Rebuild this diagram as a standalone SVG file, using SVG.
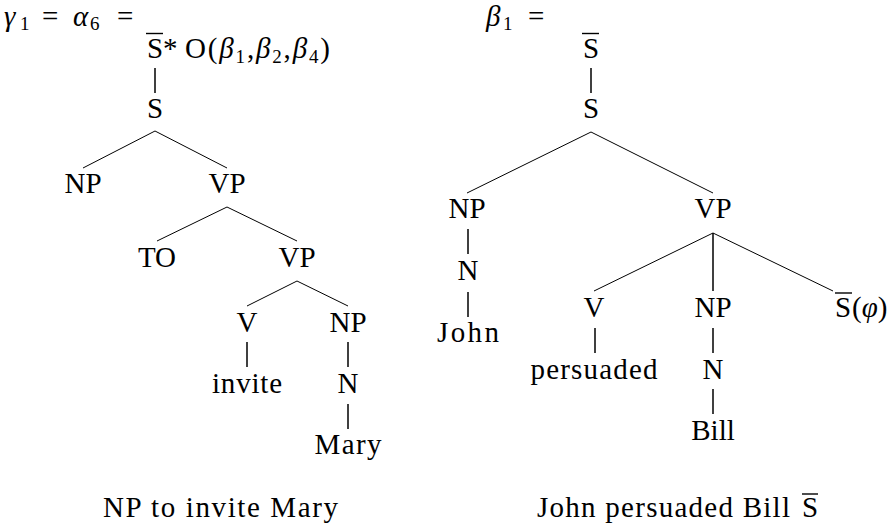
<svg xmlns="http://www.w3.org/2000/svg" width="889" height="525" viewBox="0 0 889 525" font-family="'Liberation Serif', 'DejaVu Serif', serif">
<style>
text{font-family:'Liberation Serif','DejaVu Serif',serif;font-size:29px;fill:#000}
.c{text-anchor:middle}
.i{font-style:italic}
.sub{font-size:19px}
.e line{stroke:#000;stroke-width:1}
.e line.v{stroke-width:1.5}
.ov{stroke:#000;stroke-width:1.4}
</style>
<rect width="889" height="525" fill="#fff"/>
<g id="connectors" class="e">
<line class="v" x1="155" y1="68" x2="155" y2="93"/>
<line x1="155" y1="131" x2="83" y2="168"/>
<line x1="155" y1="131" x2="227" y2="168"/>
<line x1="227" y1="207" x2="157" y2="241"/>
<line x1="227" y1="207" x2="297" y2="241"/>
<line x1="297" y1="281" x2="247" y2="306"/>
<line x1="297" y1="281" x2="348" y2="306"/>
<line class="v" x1="247" y1="342" x2="247" y2="367"/>
<line class="v" x1="348" y1="342" x2="348" y2="367"/>
<line class="v" x1="348" y1="404" x2="348" y2="429"/>
<line class="v" x1="591" y1="68" x2="591" y2="93"/>
<line x1="591" y1="132" x2="467" y2="193"/>
<line x1="591" y1="132" x2="713" y2="193"/>
<line class="v" x1="468" y1="229" x2="468" y2="254"/>
<line class="v" x1="468" y1="292" x2="468" y2="317"/>
<line x1="713" y1="233" x2="594" y2="291"/>
<line class="v" x1="713" y1="233" x2="713" y2="291"/>
<line x1="713" y1="233" x2="833" y2="291"/>
<line class="v" x1="595" y1="328" x2="595" y2="353"/>
<line class="v" x1="713" y1="328" x2="713" y2="353"/>
<line class="v" x1="713" y1="389" x2="713" y2="414"/>
</g>
<g id="title-left"><text y="26"><tspan class="i" x="4">γ</tspan><tspan class="sub" x="20" dy="4">1</tspan><tspan x="42" dy="-4">=</tspan><tspan class="i" x="73">α</tspan><tspan class="sub" x="90" dy="4">6</tspan><tspan x="117" dy="-4">=</tspan></text></g>
<g id="L-Sbar">
<text class="c" x="155" y="58">S</text>
<line class="ov" x1="146" y1="33.5" x2="163" y2="33.5"/>
<text x="163" y="58">*</text>
<text x="185" y="58" textLength="145" lengthAdjust="spacing">O(<tspan class="i">β</tspan><tspan class="sub" dy="5">1</tspan><tspan dy="-5">,</tspan><tspan class="i">β</tspan><tspan class="sub" dy="5">2</tspan><tspan dy="-5">,</tspan><tspan class="i">β</tspan><tspan class="sub" dy="5">4</tspan><tspan dy="-5">)</tspan></text>
</g>
<g id="L-S"><text class="c" x="155" y="118">S</text></g>
<g id="L-NP"><text class="c" x="83" y="193">NP</text></g>
<g id="L-VP"><text class="c" x="227" y="193">VP</text></g>
<g id="L-TO"><text class="c" x="157" y="267">TO</text></g>
<g id="L-VP2"><text class="c" x="297" y="267">VP</text></g>
<g id="L-V"><text class="c" x="247" y="332">V</text></g>
<g id="L-NP2"><text class="c" x="348" y="332">NP</text></g>
<g id="L-invite"><text class="c" x="247" y="393" textLength="70" lengthAdjust="spacing">invite</text></g>
<g id="L-N"><text class="c" x="348" y="393">N</text></g>
<g id="L-Mary"><text class="c" x="348" y="454" textLength="67" lengthAdjust="spacing">Mary</text></g>
<g id="L-caption"><text x="103" y="517" textLength="235" lengthAdjust="spacing">NP to invite Mary</text></g>

<g id="title-right"><text y="26"><tspan class="i" x="486">β</tspan><tspan class="sub" x="503" dy="4">1</tspan><tspan x="528" dy="-4">=</tspan></text></g>
<g id="R-Sbar">
<text class="c" x="591" y="58">S</text>
<line class="ov" x1="582" y1="33.5" x2="599" y2="33.5"/>
</g>
<g id="R-S"><text class="c" x="591" y="118">S</text></g>
<g id="R-NP"><text class="c" x="467" y="218">NP</text></g>
<g id="R-VP"><text class="c" x="713" y="218">VP</text></g>
<g id="R-N"><text class="c" x="468" y="280">N</text></g>
<g id="R-John"><text class="c" x="468" y="342" textLength="62" lengthAdjust="spacing">John</text></g>
<g id="R-V"><text class="c" x="594" y="317">V</text></g>
<g id="R-NP2"><text class="c" x="713" y="317">NP</text></g>
<g id="R-Sphi">
<text class="c" x="843" y="317">S</text>
<line class="ov" x1="835" y1="293" x2="852" y2="293"/>
<text x="852" y="317">(<tspan class="i">φ</tspan>)</text>
</g>
<g id="R-persuaded"><text class="c" x="594" y="379" textLength="127" lengthAdjust="spacing">persuaded</text></g>
<g id="R-N2"><text class="c" x="713" y="379">N</text></g>
<g id="R-Bill"><text class="c" x="713" y="440">Bill</text></g>
<g id="R-caption">
<text x="537" y="517" textLength="253" lengthAdjust="spacing">John persuaded Bill</text>
<text class="c" x="810" y="517">S</text>
<line class="ov" x1="802" y1="494" x2="818" y2="494"/>
</g>
</svg>
